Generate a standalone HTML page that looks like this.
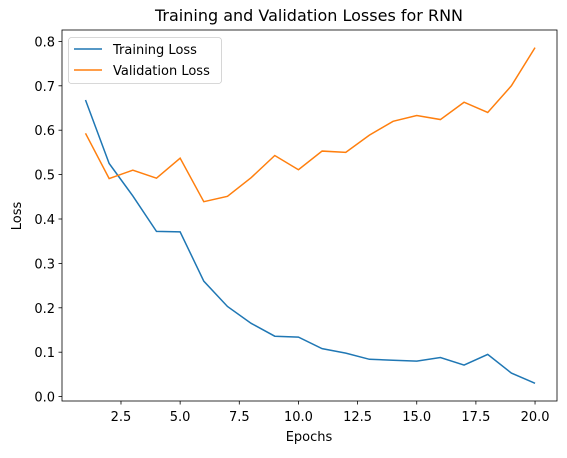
<!DOCTYPE html>
<html><head><meta charset="utf-8"><style>
body{margin:0;background:#fff}
svg text{font-family:"DejaVu Sans","Liberation Sans",sans-serif;fill:#000}
</style></head><body>
<svg id="chart" width="567" height="453" xmlns="http://www.w3.org/2000/svg">
<text x="309" y="21" font-size="16" text-anchor="middle">Training and Validation Losses for RNN</text>
<g id="ticks"></g>
<g id="lines"></g>
<rect x="62" y="30" width="495" height="371" fill="none" stroke="#000" stroke-width="0.8"/>
<text x="309" y="441" font-size="13" text-anchor="middle">Epochs</text>
<text x="0" y="0" font-size="13" text-anchor="middle" transform="translate(21,216) rotate(-90)">Loss</text>
<g>
<rect x="68.5" y="37.5" width="153" height="46" rx="3" fill="#fff" stroke="#ccc" stroke-width="0.8"/>
<line x1="74" y1="49" x2="102" y2="49" stroke="#1f77b4" stroke-width="1.5"/>
<text x="113" y="54" font-size="13">Training Loss</text>
<line x1="74" y1="70" x2="102" y2="70" stroke="#ff7f0e" stroke-width="1.5"/>
<text x="113" y="75" font-size="13">Validation Loss</text>
</g>
</svg>
<script>
const epochs=[1,2,3,4,5,6,7,8,9,10,11,12,13,14,15,16,17,18,19,20];
const trainLoss=[0.668,0.525,0.452,0.372,0.371,0.26,0.203,0.165,0.136,0.134,0.108,0.098,0.084,0.082,0.080,0.088,0.071,0.095,0.053,0.030];
const valLoss=[0.593,0.491,0.510,0.492,0.537,0.439,0.451,0.493,0.543,0.511,0.553,0.550,0.589,0.620,0.633,0.624,0.663,0.640,0.700,0.786];
const xTicks=[2.5,5.0,7.5,10.0,12.5,15.0,17.5,20.0];
const yTicks=[0.0,0.1,0.2,0.3,0.4,0.5,0.6,0.7,0.8];
const xs=v=>85.5+(v-1)*23.66;
const ys=v=>396.6-v*444;
const NS="http://www.w3.org/2000/svg";
const tg=document.getElementById('ticks'),lg=document.getElementById('lines');
function mk(tag,at,parent){const e=document.createElementNS(NS,tag);for(const k in at)e.setAttribute(k,at[k]);parent.appendChild(e);return e;}
xTicks.forEach(t=>{const x=xs(t);
const l=mk('line',{x1:x,x2:x,y1:401,y2:404.5,stroke:'#000','stroke-width':0.8},tg);


const tx=mk('text',{x:x,y:421,'font-size':13,'text-anchor':'middle'},tg);tx.textContent=t.toFixed(1);

});
yTicks.forEach(t=>{const y=ys(t);
const l=mk('line',{x1:58.5,x2:62,y1:y,y2:y,stroke:'#000','stroke-width':0.8},tg);


const tx=mk('text',{x:55,y:y+5,'font-size':13,'text-anchor':'end'},tg);tx.textContent=t.toFixed(1);

});
function series(vals,color,name){const p=mk('polyline',{points:epochs.map((e,i)=>xs(e)+','+ys(vals[i])).join(' '),fill:'none',stroke:color,'stroke-width':1.5},lg);

}
series(trainLoss,'#1f77b4','training-loss-line');
series(valLoss,'#ff7f0e','validation-loss-line');
</script>
</body></html>
